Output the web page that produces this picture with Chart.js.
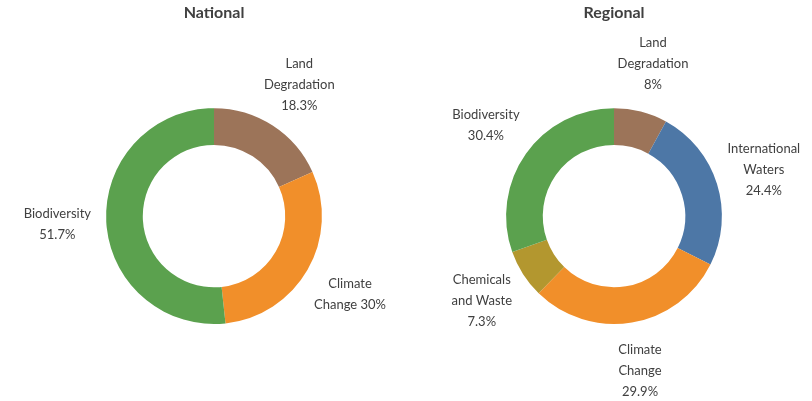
<!DOCTYPE html>
<html>
<head>
<meta charset="utf-8">
<script src="https://cdn.jsdelivr.net/npm/chart.js@4.4.0/dist/chart.umd.min.js"></script>
<style>
  html, body { margin: 0; padding: 0; background: #fff; }
  .wrap { position: relative; width: 812px; height: 401px; }
  .box { position: absolute; top: 0; width: 406px; height: 401px; }
  #nationalBox { left: 0; }
  #regionalBox { left: 406px; }
</style>
</head>
<body>
<div class="wrap">
  <div class="box" id="nationalBox"><canvas id="nationalChart"></canvas></div>
  <div class="box" id="regionalBox"><canvas id="regionalChart"></canvas></div>
</div>
<script>
// National
const nationalLabels = ["Land Degradation", "Climate Change", "Biodiversity"];
const nationalValues = [18.3, 30, 51.7];
const nationalColors = ["#9c7459", "#f18f2a", "#5ba14e"];
// how each label is broken into lines, as in the picture
const nationalText = [["Land", "Degradation", "18.3%"], ["Climate", "Change 30%"], ["Biodiversity", "51.7%"]];

// Regional
const regionalLabels = ["Land Degradation", "International Waters", "Climate Change", "Chemicals and Waste", "Biodiversity"];
const regionalValues = [8, 24.4, 29.9, 7.3, 30.4];
const regionalColors = ["#9c7459", "#4d77a6", "#f18f2a", "#b3972f", "#5ba14e"];
const regionalText = [
  ["Land", "Degradation", "8%"],
  ["International", "Waters", "24.4%"],
  ["Climate", "Change", "29.9%"],
  ["Chemicals", "and Waste", "7.3%"],
  ["Biodiversity", "30.4%"]
];

// Draw labels outside each slice, along its middle angle
const outsideLabels = {
  id: "outsideLabels",
  afterDatasetsDraw(chart, args, opts) {
    const ctx = chart.ctx;
    const meta = chart.getDatasetMeta(0);
    ctx.save();
    ctx.font = "13px Lato, 'Open Sans', sans-serif";
    ctx.fillStyle = "#404040";
    ctx.textAlign = "center";
    ctx.textBaseline = "middle";
    meta.data.forEach((arc, i) => {
      const p = arc.getProps(["x", "y", "startAngle", "endAngle", "outerRadius"], true);
      const mid = (p.startAngle + p.endAngle) / 2;
      const r = p.outerRadius + opts.offset;
      const cx = p.x + Math.cos(mid) * r;
      const cy = p.y + Math.sin(mid) * r;
      const lines = opts.text[i];
      const lh = 21;
      lines.forEach((line, j) => {
        ctx.fillText(line, cx, cy + (j - (lines.length - 1) / 2) * lh);
      });
    });
    ctx.restore();
  }
};

function makeDoughnut(id, title, labels, values, colors, text, padLeft) {
  return new Chart(document.getElementById(id), {
    type: "doughnut",
    data: {
      labels,
      datasets: [{
        data: values,
        backgroundColor: colors,
        borderWidth: 0
      }]
    },
    options: {
      responsive: true,
      maintainAspectRatio: false,
      animation: false,
      cutout: "66%",
      layout: { padding: { top: 3, bottom: 77, left: padLeft, right: 0 } },
      plugins: {
        legend: { display: false },
        tooltip: { enabled: false },
        title: {
          display: true,
          text: title,
          color: "#404040",
          font: { family: "Lato, 'Open Sans', sans-serif", size: 16, weight: "bold" },
          padding: { top: 0, bottom: 86 }
        },
        outsideLabels: { text, offset: 49 }
      }
    },
    plugins: [outsideLabels]
  });
}

makeDoughnut("nationalChart", "National", nationalLabels, nationalValues, nationalColors, nationalText, 22);
makeDoughnut("regionalChart", "Regional", regionalLabels, regionalValues, regionalColors, regionalText, 10);
</script>
</body>
</html>
